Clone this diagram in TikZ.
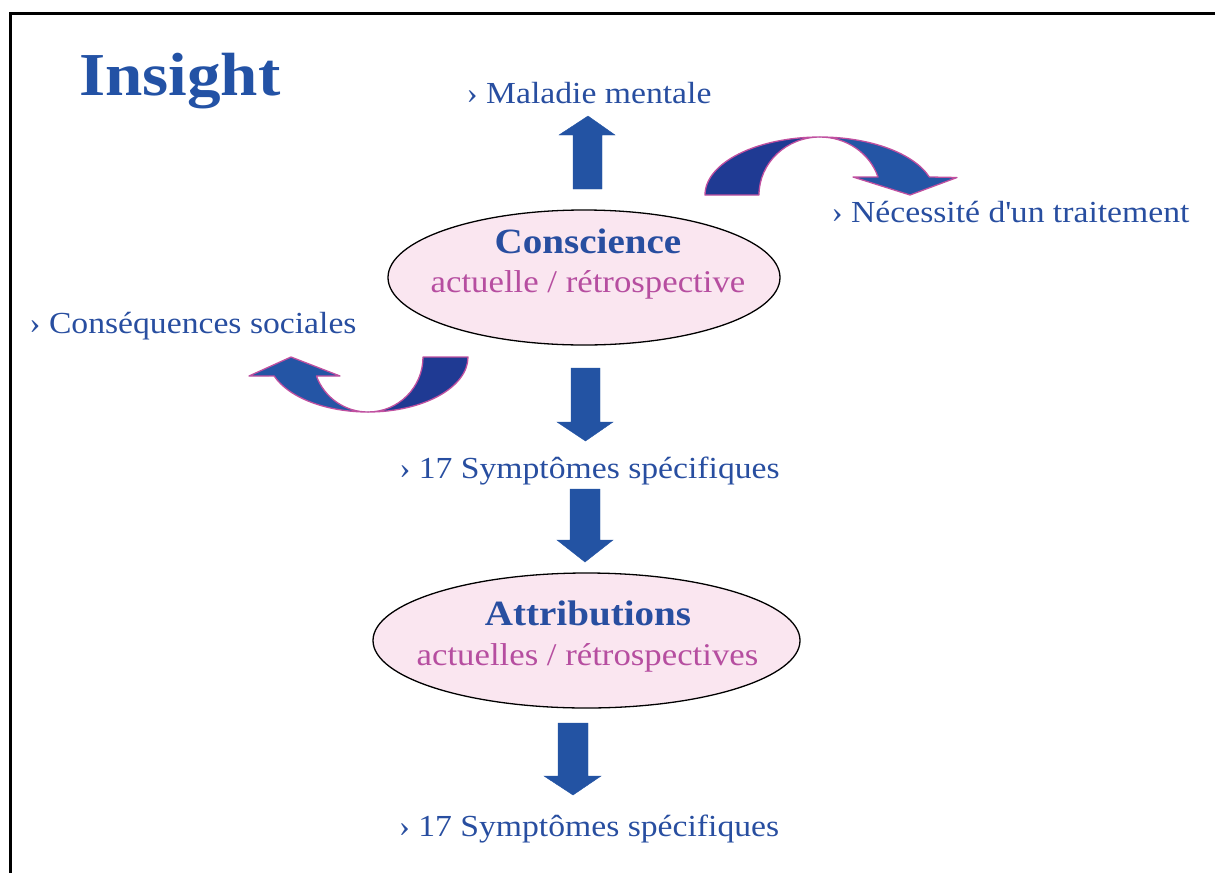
\documentclass[tikz,border=0pt]{standalone}
\usepackage{fontspec}
\setmainfont{Liberation Serif}[FakeStretch=1.1]
\usetikzlibrary{shapes.geometric}
\definecolor{arrowblue}{RGB}{35,83,163}
\definecolor{darkblue}{RGB}{31,58,147}
\definecolor{lightblue}{RGB}{36,85,165}
\definecolor{pinkline}{RGB}{192,80,160}
\definecolor{ellfill}{RGB}{250,230,240}
\definecolor{txtblue}{RGB}{40,78,160}
\definecolor{txtpink}{RGB}{182,78,160}
\begin{document}
\begin{tikzpicture}[x=1pt,y=-1pt,
  bluetext/.style={text=txtblue,font=\fontsize{30.6}{36}\selectfont,inner sep=0pt,anchor=base},
  pinktext/.style={text=txtpink,font=\fontsize{31.6}{38}\selectfont,inner sep=0pt,anchor=base},
  headtext/.style={text=txtblue,font=\bfseries\fontsize{35.5}{42}\selectfont,inner sep=0pt,anchor=base},
  ellipsebox/.style={ellipse,draw=black,line width=1.3pt,fill=ellfill,inner sep=0pt},
  blockarrow/.style={fill=arrowblue,draw=arrowblue,line width=0.4pt,line join=miter},
  curvedark/.style={fill=darkblue,draw=pinkline,line width=1.3pt,line join=round},
  curvelight/.style={fill=lightblue,draw=pinkline,line width=1.3pt,line join=round}]
\useasboundingbox (0,0) rectangle (1215,873);
% frame
\draw[line width=3pt,black] (1215,13.5) -- (10.5,13.5) -- (10.5,873);
% title
\node[text={rgb,255:red,35;green,82;blue,165},font=\bfseries\fontsize{61}{70}\selectfont,inner sep=0pt,anchor=base west] (title) at (79,95) {Insight};
% ellipses
\node[ellipsebox,minimum width=392pt,minimum height=135pt] (cons) at (584,277.5) {};
\node[ellipsebox,minimum width=427pt,minimum height=135pt] (attr) at (586.5,640.5) {};
% ellipse texts
\node[headtext] (consT) at (588,253) {Conscience};
\node[pinktext] (consS) at (588,292) {actuelle / rétrospective};
\node[headtext] (attrT) at (588,625) {Attributions};
\node[pinktext] (attrS) at (587.5,665) {actuelles / rétrospectives};
% other texts
\node[bluetext] (mal) at (589,103) {› Maladie mentale};
\node[bluetext] (nec) at (1010.5,222) {› Nécessité d\textquotesingle un traitement};
\node[bluetext] (soc) at (193,333) {› Conséquences sociales};
\node[bluetext] (sym1) at (589.5,478) {› 17 Symptômes spécifiques};
\node[bluetext] (sym2) at (589,836) {› 17 Symptômes spécifiques};
% straight block arrows
\draw[blockarrow] (573,189) -- (573,135) -- (559,135) -- (588,116) -- (615,135) -- (602,135) -- (602,189) -- cycle;
\draw[blockarrow] (571,368) -- (571,422) -- (557,422) -- (585.5,441) -- (613,422) -- (600,422) -- (600,368) -- cycle;
\draw[blockarrow] (570,489) -- (570,540) -- (557,540) -- (585,562) -- (613,540) -- (600,540) -- (600,489) -- cycle;
\draw[blockarrow] (558,723) -- (558,776) -- (544,776) -- (573,795) -- (601,776) -- (588,776) -- (588,723) -- cycle;
% curved arrow (upper right)
\draw[curvedark] (705,195) arc[start angle=180,end angle=270,x radius=115,y radius=58]
  arc[start angle=270,end angle=180,x radius=61,y radius=58] -- cycle;
\draw[curvelight] (820,137) arc[start angle=270,end angle=341.9,x radius=115,y radius=58]
  -- (957,177.5) -- (910,195) -- (853,177) -- (878,177)
  arc[start angle=341.9,end angle=270,x radius=61,y radius=58] -- cycle;
% curved arrow (lower left)
\draw[curvedark] (468,357) arc[start angle=0,end angle=90,x radius=100,y radius=55]
  arc[start angle=90,end angle=0,x radius=55,y radius=55] -- cycle;
\draw[curvelight] (368,412) arc[start angle=90,end angle=159.8,x radius=100,y radius=55]
  -- (249,376) -- (291,357) -- (340,376) -- (316.4,376)
  arc[start angle=159.8,end angle=90,x radius=55,y radius=55] -- cycle;
\end{tikzpicture}
\end{document}
